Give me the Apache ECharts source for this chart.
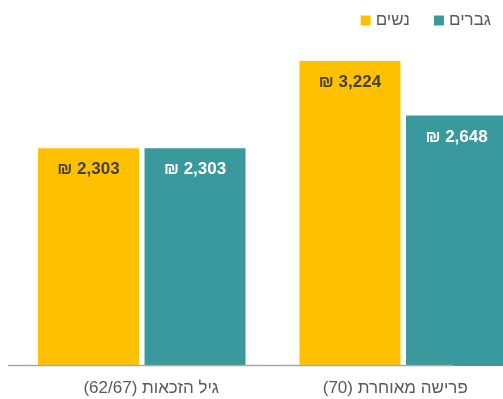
<!DOCTYPE html>
<html>
<head>
<meta charset="utf-8">
<script src="https://cdn.jsdelivr.net/npm/echarts@6/dist/echarts.min.js"></script>
<style>html,body{margin:0;padding:0;background:#fff}#c{width:503px;height:399px}</style>
</head>
<body>
<div id="c"></div>
<script>
const categories = ['גיל הזכאות (62/67)', 'פרישה מאוחרת (70)'];
const seriesNames = ['נשים', 'גברים'];
const women = [2303, 3224];
const men = [2303, 2648];

const chart = echarts.init(document.getElementById('c'), null, {renderer: 'canvas'});
const fmt = v => '₪ ' + v.toLocaleString('en-US');
const FONT = 'Liberation Sans, Arial, sans-serif';

chart.setOption({
  animation: false,
  legend: {
    data: seriesNames,
    right: 7, top: 7,
    itemWidth: 10, itemHeight: 10, itemGap: 24,
    icon: 'rect',
    textStyle: {fontFamily: FONT, fontSize: 17, color: '#595959'}
  },
  grid: {left: 11, width: 523, top: 35, bottom: 33, containLabel: false, outerBoundsMode: 'none'},
  xAxis: {
    type: 'category',
    data: categories,
    axisLine: {show: false},
    axisTick: {show: false},
    axisLabel: {
      margin: 14,
      fontFamily: FONT, fontSize: 17, color: '#595959',
      formatter: (v, i) => (i === 0 ? '{a|' : '{b|') + '\u202B' + v + '\u202C}',
      rich: {
        a: {fontFamily: FONT, fontSize: 17, color: '#595959', padding: [0, 0, 0, 19]},
        b: {fontFamily: FONT, fontSize: 17, color: '#595959', padding: [0, 16, 0, 0]}
      }
    }
  },
  yAxis: {type: 'value', min: 0, max: 3500, show: false, splitLine: {show: false}},
  series: [
    {
      name: seriesNames[0], type: 'bar', data: women,
      barWidth: 101, barGap: '5.5%',
      itemStyle: {color: '#FFC000'},
      label: {show: true, position: 'insideTop', distance: 13, formatter: p => fmt(p.value),
        fontFamily: FONT, fontSize: 17, fontWeight: 'bold', color: '#404040'}
    },
    {
      name: seriesNames[1], type: 'bar', data: men,
      barWidth: 101,
      itemStyle: {color: '#3A999D'},
      label: {show: true, position: 'insideTop', distance: 13, formatter: p => fmt(p.value),
        fontFamily: FONT, fontSize: 17, fontWeight: 'bold', color: '#FFFFFF'}
    }
  ],
  graphic: [{
    type: 'line', z: 100,
    shape: {x1: 8, y1: 365.5, x2: 453, y2: 365.5},
    style: {stroke: '#A6A6A6', lineWidth: 1.5}
  }]
});
</script>
</body>
</html>
